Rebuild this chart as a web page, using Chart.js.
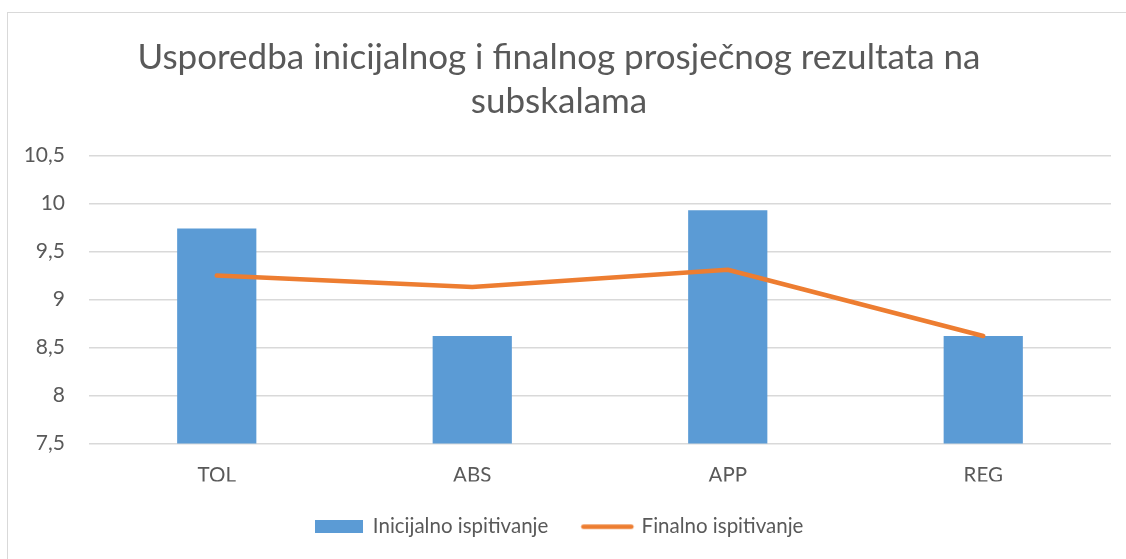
<!DOCTYPE html>
<html>
<head>
<meta charset="utf-8">
<script src="https://cdn.jsdelivr.net/npm/chart.js@4/dist/chart.umd.min.js"></script>
<style>
  html, body { margin: 0; padding: 0; background: #fff; overflow: hidden; }
  #frame { position: absolute; left: 7px; top: 12px; width: 1140px; height: 570px; border: 1.5px solid #d9d9d9; }
  #wrap { position: absolute; left: 0; top: 0; width: 1126px; height: 559px; }
</style>
</head>
<body>
<div id="frame"></div>
<div id="wrap"><canvas id="chart"></canvas></div>
<script>
var categories = ['TOL', 'ABS', 'APP', 'REG'];
var initialValues = [9.74, 8.62, 9.93, 8.62];
var finalValues = [9.25, 9.13, 9.31, 8.62];
var yTicks = [7.5, 8, 8.5, 9, 9.5, 10, 10.5];
var titleLines = ['Usporedba inicijalnog i finalnog prosječnog rezultata na', 'subskalama'];
var seriesNames = ['Inicijalno ispitivanje', 'Finalno ispitivanje'];

var blue = '#5B9BD5';
var orange = '#ED7D31';
var grey = '#595959';
var font = 'Lato, "Open Sans", sans-serif';

// legend swatches
var barSwatch = document.createElement('canvas');
barSwatch.width = 48; barSwatch.height = 13;
var bctx = barSwatch.getContext('2d');
bctx.fillStyle = blue;
bctx.fillRect(0, 0, 48, 13);

var lineSwatch = document.createElement('canvas');
lineSwatch.width = 56; lineSwatch.height = 13;
var lctx = lineSwatch.getContext('2d');
lctx.strokeStyle = orange;
lctx.lineWidth = 4.5;
lctx.lineCap = 'round';
lctx.beginPath();
lctx.moveTo(4, 6.5);
lctx.lineTo(52, 6.5);
lctx.stroke();

var ctx = document.getElementById('chart').getContext('2d');
var chart = new Chart(ctx, {
    type: 'bar',
    data: {
        labels: categories,
        datasets: [{
            label: seriesNames[0],
            data: initialValues,
            backgroundColor: blue,
            barPercentage: 0.31,
            categoryPercentage: 1,
            order: 1
        }, {
            type: 'line',
            label: seriesNames[1],
            data: finalValues,
            borderColor: orange,
            backgroundColor: orange,
            borderWidth: 4.5,
            borderCapStyle: 'round',
            borderJoinStyle: 'round',
            pointRadius: 0,
            tension: 0,
            order: 0
        }]
    },
    options: {
        responsive: true,
        maintainAspectRatio: false,
        animation: false,
        layout: { padding: { left: 7, right: 15, top: 0, bottom: 12 } },
        plugins: {
            title: {
                display: true,
                text: titleLines,
                color: grey,
                font: { family: font, size: 35, weight: 'normal', lineHeight: 1.25 },
                padding: { top: 36, bottom: 32 }
            },
            legend: {
                position: 'bottom',
                labels: {
                    usePointStyle: true,
                    pointStyleWidth: 48,
                    padding: 35,
                    color: grey,
                    font: { family: font, size: 20.5 },
                    generateLabels: function (c) {
                        var items = Chart.defaults.plugins.legend.labels.generateLabels(c);
                        items.sort(function (a, b) { return a.datasetIndex - b.datasetIndex; });
                        items.forEach(function (it) {
                            it.pointStyle = it.datasetIndex === 0 ? barSwatch : lineSwatch;
                        });
                        return items;
                    }
                }
            },
            tooltip: { enabled: false }
        },
        scales: {
            x: {
                grid: { display: false, drawTicks: false },
                border: { display: false },
                ticks: { color: grey, padding: 20, font: { family: font, size: 20.5 } },
                afterFit: function (s) { s.height = 38; }
            },
            y: {
                min: 7.5,
                max: 10.5,
                afterBuildTicks: function (s) {
                    s.ticks = yTicks.map(function (v) { return { value: v }; });
                },
                grid: { color: '#d9d9d9', lineWidth: 1.5, drawTicks: false },
                border: { display: false },
                ticks: {
                    color: grey,
                    padding: 24,
                    font: { family: font, size: 21 },
                    callback: function (v) { return String(v).replace('.', ','); }
                },
                afterFit: function (s) { s.width = 82; }
            }
        }
    }
});
</script>
</body>
</html>
